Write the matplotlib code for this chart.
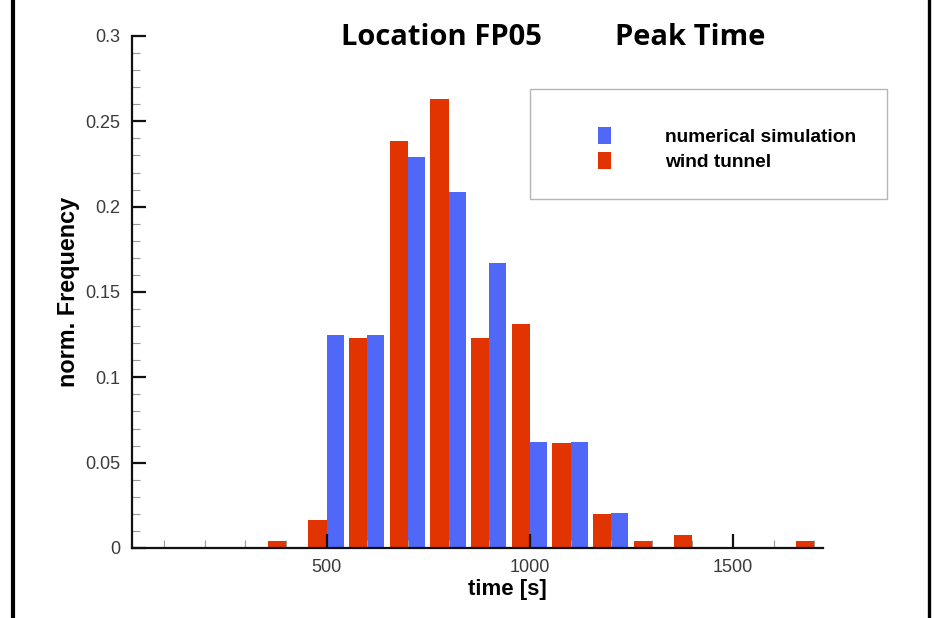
import matplotlib
matplotlib.use("Agg")
import matplotlib.pyplot as plt
from matplotlib.lines import Line2D
from matplotlib.patches import Rectangle
from matplotlib.ticker import MultipleLocator

# bin centres [s] and normalised frequencies
sim_time = [500, 600, 700, 800, 900, 1000, 1100, 1200]
sim_freq = [0.125, 0.125, 0.229, 0.2083, 0.1667, 0.062, 0.062, 0.0203]

wt_time = [400, 500, 600, 700, 800, 900, 1000, 1100, 1200, 1300, 1400, 1700]
wt_freq = [0.0039, 0.0162, 0.1233, 0.2386, 0.2632, 0.1233, 0.1315,
           0.0614, 0.0199, 0.0039, 0.0078, 0.0039]

labels = ["numerical simulation", "wind tunnel"]
BLUE = "#4f68f8"
RED = "#e23400"

plt.rcParams["font.family"] = ["Liberation Sans", "DejaVu Sans"]

fig = plt.figure(figsize=(9.34, 6.18), dpi=100)
ax = fig.add_axes([0.141, 0.1133, 0.7405, 0.8285])

# blue sits right of the bin centre, red left of it
b_sim = ax.bar(sim_time, sim_freq, width=42, align="edge", color=BLUE,
               label=labels[0], zorder=1)
b_wt = ax.bar(wt_time, wt_freq, width=-45, align="edge", color=RED,
              label=labels[1], zorder=1)

ax.set_xlim(20, 1722)
ax.set_ylim(0, 0.3)
ax.xaxis.set_minor_locator(MultipleLocator(100))
ax.yaxis.set_minor_locator(MultipleLocator(0.01))
ax.set_yticks([0, 0.05, 0.1, 0.15, 0.2, 0.25, 0.3])
ax.set_yticklabels(["0", "0.05", "0.1", "0.15", "0.2", "0.25", "0.3"])
ax.set_xticks([500, 1000, 1500])
ax.set_xticklabels(["500", "1000", "1500"])

for s in ("top", "right"):
    ax.spines[s].set_visible(False)
for s in ("left", "bottom"):
    ax.spines[s].set_linewidth(1.6)
    ax.spines[s].set_color("#111111")

ax.tick_params(which="major", direction="in", length=10, width=1.6,
               color="#111111", labelsize=13, labelcolor="#3a3a3a", pad=8)
ax.tick_params(which="minor", direction="in", length=6, width=0.8,
               color="#999999")

ax.set_xlabel("time [s]", fontsize=16, fontweight="bold", labelpad=1)
ax.xaxis.set_label_coords(0.543, -0.06)
ax.set_ylabel("norm. Frequency", fontsize=16.8, fontweight="bold",
              labelpad=4)

fig.text(441 / 934, 1 - 45 / 618, "Location FP05", family="Open Sans",
         fontweight="bold", fontsize=21, va="baseline", ha="center")
fig.text(690 / 934, 1 - 45 / 618, "Peak Time", family="Open Sans",
         fontweight="bold", fontsize=21, va="baseline", ha="center")

# legend frame drawn by hand, entries by the legend itself
fig.add_artist(Rectangle((530 / 934, 1 - 199 / 618), 357 / 934, 110 / 618,
                         transform=fig.transFigure, fill=False,
                         edgecolor="#b5b5b5", linewidth=1.0))
ax.legend(handles=[b_sim, b_wt], labels=labels, loc="upper left",
          bbox_to_anchor=(598 / 934, 1 - 127 / 618),
          bbox_transform=fig.transFigure, frameon=False, borderpad=0,
          borderaxespad=0, handlelength=0.67, handleheight=1.0,
          handletextpad=2.85, labelspacing=0.28,
          prop={"size": 13.8, "weight": "bold"})

# black frame lines at both sides of the image
fig.add_artist(Line2D([13 / 934, 13 / 934], [0, 1], color="black",
                      linewidth=3, transform=fig.transFigure))
fig.add_artist(Line2D([929 / 934, 929 / 934], [0, 1], color="black",
                      linewidth=2.4, transform=fig.transFigure))

fig.savefig("out.png", dpi=100)
